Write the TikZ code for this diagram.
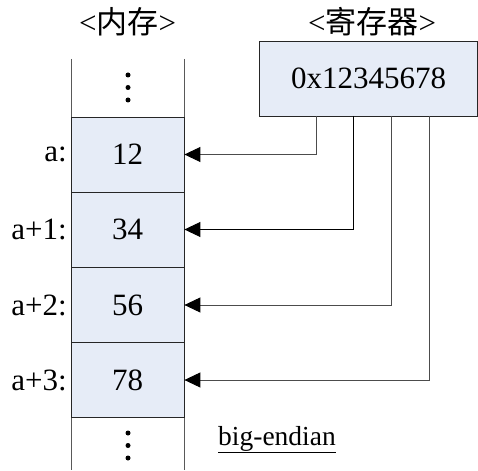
\documentclass[tikz,border=0pt]{standalone}
\usepackage{fontspec}
\setmainfont{Liberation Serif}
\newfontfamily\cjk{Noto Sans CJK SC}
\usetikzlibrary{arrows.meta}
\definecolor{cellblue}{HTML}{E6ECF7}
\tikzset{
  cell/.style={draw=black!85, line width=0.8pt, fill=cellblue, minimum width=113pt,
    minimum height=75pt, inner sep=0pt, font=\fontsize{31}{36}\selectfont},
  addr/.style={anchor=east, inner sep=0pt, font=\fontsize{31}{36}\selectfont},
  head/.style={inner sep=0pt, font=\fontsize{31}{36}\selectfont},
  wall/.style={draw=black!65, line width=0.9pt},
  conn/.style={draw=black!70, line width=0.9pt,
    -{Triangle[length=16pt,width=15pt,color=black]}},
  dot/.style={fill=black, circle, inner sep=0pt, minimum size=5pt}
}
\begin{document}
\begin{tikzpicture}[x=1pt, y=-1pt]
\useasboundingbox (0,0) rectangle (478,470);

% headings
\node[head] (hmem) at (127.5,22) {<{\cjk 内存}>};
\node[head] (hreg) at (372,22) {<{\cjk 寄存器}>};

% memory column walls
\draw[wall] (71,59) -- (71,470);
\draw[wall] (184,59) -- (184,470);

% memory cells
\node[cell] (c1) at (127.5,154.5) {12};
\node[cell] (c2) at (127.5,229.5) {34};
\node[cell] (c3) at (127.5,305)   {56};
\node[cell] (c4) at (127.5,380)   {78};

% ellipsis dots above and below
\foreach \y [count=\i] in {75,87.5,100} \node[dot] (td\i) at (128,\y) {};
\foreach \y [count=\i] in {433,445.5,458} \node[dot] (bd\i) at (128,\y) {};

% address labels
\node[addr] (l1) at (67,154) {a:};
\node[addr] (l2) at (67,229.5) {a+1:};
\node[addr] (l3) at (67,305) {a+2:};
\node[addr] (l4) at (67,380) {a+3:};

% register
\node[cell, minimum width=218pt, minimum height=75pt] (reg) at (368.5,78.5) {0x12345678};

% taps on the register's bottom edge
\coordinate (p1) at (316,116);
\coordinate (p2) at (353.5,116);
\coordinate (p3) at (391,116);
\coordinate (p4) at (429,116);

\draw[conn] (p1) |- (c1.east);
\draw[conn, draw=black] (p2) |- (c2.east);
\draw[conn] (p3) |- (c3.east);
\draw[conn] (p4) |- (c4.east);

% byte order note
\node[anchor=base west, inner sep=0pt, font=\fontsize{27.5}{32}\selectfont] (note) at (218,445) {\underline{big-endian}};
\end{tikzpicture}
\end{document}
